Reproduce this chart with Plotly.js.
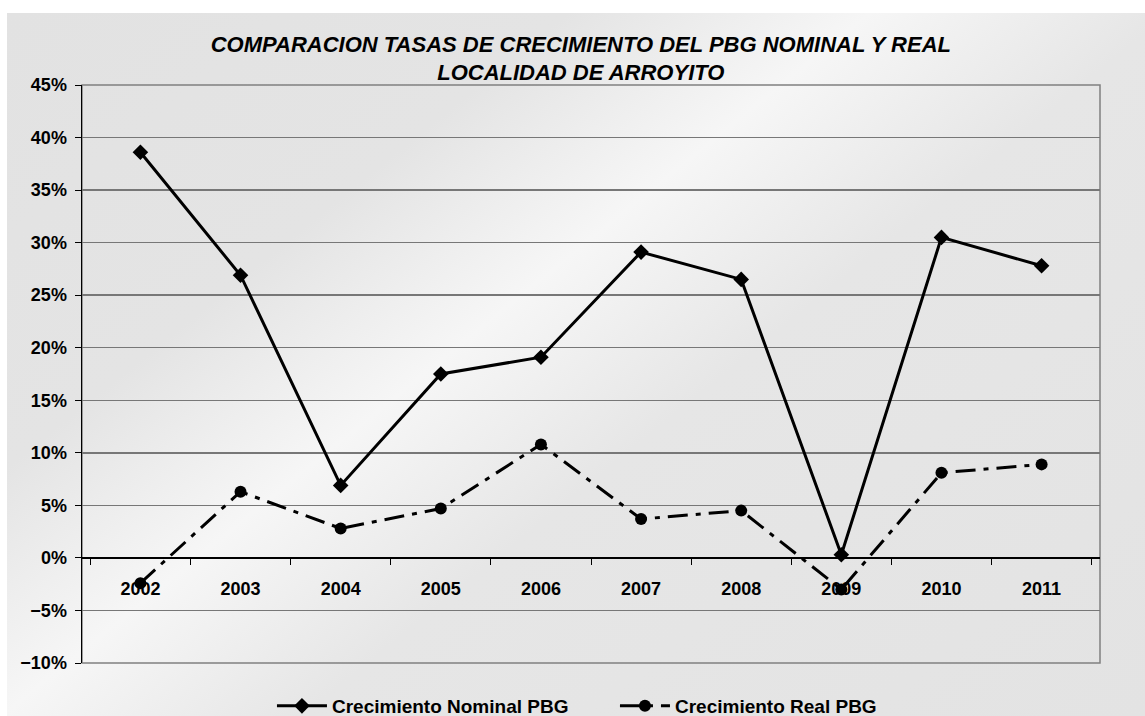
<!DOCTYPE html>
<html>
<head>
<meta charset="utf-8">
<script src="https://cdn.plot.ly/plotly-3.0.1.min.js"></script>
<style>
  html, body { margin: 0; padding: 0; background: #ffffff; }
  #wrap { position: relative; width: 1145px; height: 716px; overflow: hidden; background: #ffffff; }
  #bg { position: absolute; left: 7px; top: 13px; width: 1138px; height: 703px;
        background: linear-gradient(141deg, #e2e2e2 0%, #e4e4e4 28%, #f6f6f6 43%, #e6e6e6 58%, #e3e3e3 100%); }
  #chart { position: absolute; left: 0; top: 0; width: 1145px; height: 716px; }
</style>
</head>
<body>
<div id="wrap">
  <div id="bg"></div>
  <div id="chart"></div>
</div>
<script>
const years = ['2002','2003','2004','2005','2006','2007','2008','2009','2010','2011'];
const nominal = [0.386, 0.269, 0.069, 0.175, 0.191, 0.291, 0.265, 0.003, 0.305, 0.278];
const real = [-0.024, 0.063, 0.028, 0.047, 0.108, 0.037, 0.045, -0.030, 0.081, 0.089];
const nominalName = 'Crecimiento Nominal PBG';
const realName = 'Crecimiento Real PBG';
const titleText = 'COMPARACION TASAS DE CRECIMIENTO DEL PBG NOMINAL Y REAL<br>LOCALIDAD DE ARROYITO';

const fontFam = 'Liberation Sans, Arial, Helvetica, sans-serif';

const traces = [
  {
    x: years, y: nominal, name: nominalName, type: 'scatter', mode: 'lines+markers',
    line: {color: '#000000', width: 3},
    marker: {symbol: 'diamond', size: 12, color: '#000000'},
    cliponaxis: false
  },
  {
    x: years, y: real, name: realName, type: 'scatter', mode: 'lines+markers',
    line: {color: '#000000', width: 3, dash: '20px,8px,5px,8px'},
    marker: {symbol: 'circle', size: 12, color: '#000000'},
    cliponaxis: false
  }
];

const layout = {
  width: 1145, height: 716,
  paper_bgcolor: 'rgba(0,0,0,0)',
  plot_bgcolor: 'rgba(0,0,0,0)',
  margin: {l: 82, r: 45, t: 85, b: 53, pad: 0},
  font: {family: fontFam, color: '#000000', size: 18},
  title: {
    text: titleText,
    font: {family: fontFam, size: 22, weight: 'bold', style: 'italic', color: '#000000'},
    x: 0.490, xanchor: 'center', xref: 'paper',
    y: 0.928, yanchor: 'top', yref: 'container'
  },
  xaxis: {
    type: 'category',
    anchor: 'free', position: 10/55,
    showline: true, linecolor: '#000000', linewidth: 1.5,
    ticks: 'outside', tickson: 'boundaries', ticklen: 6, tickcolor: '#000000', tickwidth: 1,
    showgrid: false, zeroline: false,
    tickfont: {family: fontFam, size: 18, weight: 'bold', color: '#000000'},
    ticklabelstandoff: 14,
    fixedrange: true
  },
  yaxis: {
    range: [-0.10, 0.45], dtick: 0.05, tick0: 0, tickformat: '.0%',
    showline: true, linecolor: '#000000', linewidth: 1.5,
    ticks: 'outside', ticklen: 6, tickcolor: '#000000', tickwidth: 1,
    showgrid: true, gridcolor: '#777777', gridwidth: 1.5,
    zeroline: true, zerolinecolor: '#000000', zerolinewidth: 1.5,
    tickfont: {family: fontFam, size: 18, weight: 'bold', color: '#000000'},
    ticklabelstandoff: 4,
    fixedrange: true
  },
  shapes: [
    {type: 'rect', xref: 'paper', yref: 'paper', x0: 0, x1: 1, y0: 0, y1: 1,
     line: {color: '#808080', width: 1.5}, fillcolor: 'rgba(0,0,0,0)', layer: 'below'}
  ],
  showlegend: true,
  legend: {
    orientation: 'h', x: 0.1866, xanchor: 'left', xref: 'paper',
    y: 0.014, yanchor: 'middle', yref: 'container',
    bgcolor: 'rgba(0,0,0,0)',
    font: {family: fontFam, size: 19, weight: 'bold', color: '#000000'},
    itemwidth: 50, tracegroupgap: 0,
    entrywidth: 278, entrywidthmode: 'pixels'
  }
};

Plotly.newPlot('chart', traces, layout, {displayModeBar: false, staticPlot: true});
</script>
</body>
</html>
